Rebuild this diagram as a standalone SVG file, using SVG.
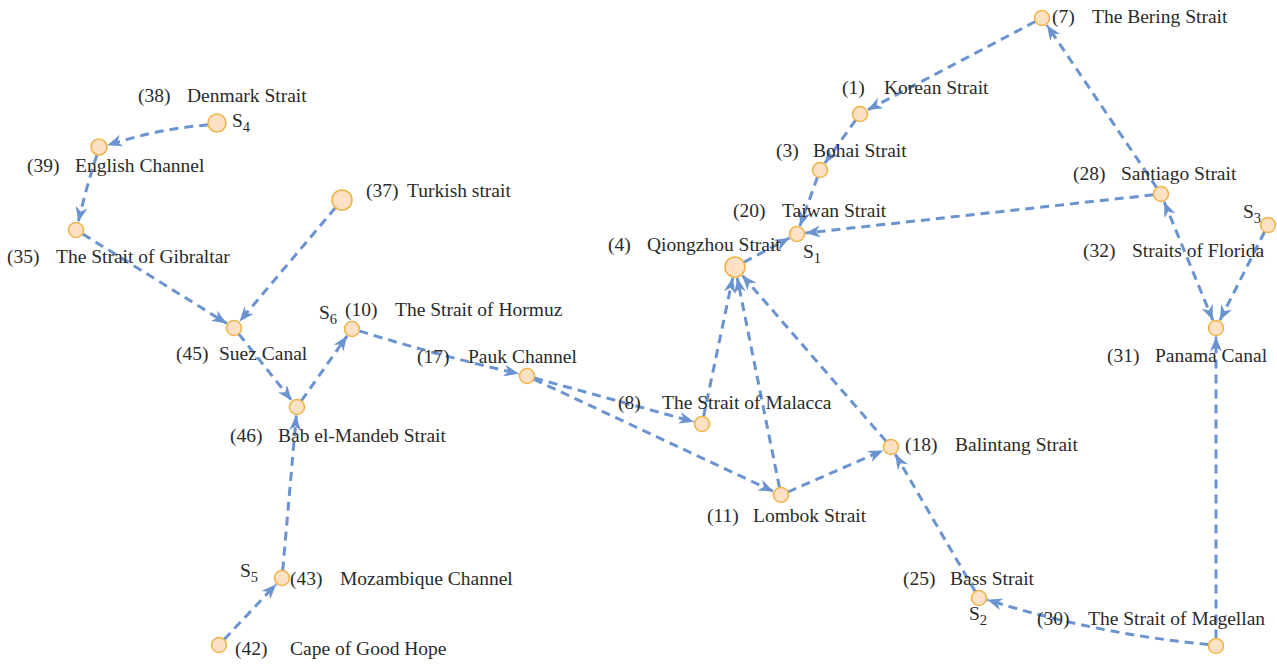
<svg xmlns="http://www.w3.org/2000/svg" width="1277" height="666" viewBox="0 0 1277 666">
<style>
.e{fill:none;stroke:#6a93cf;stroke-width:3;stroke-dasharray:9 6;marker-end:url(#ah)}
.n{fill:#fde1c5;stroke:#f0b54a;stroke-width:1.6}
text{font-family:"Liberation Serif","Times New Roman",serif;font-size:19.5px;fill:#2a2a2a}
.sub{font-size:14.5px}
</style>
<defs>
<marker id="ah" markerUnits="userSpaceOnUse" markerWidth="16" markerHeight="12" viewBox="0 0 16 12" refX="15" refY="6" orient="auto-start-reverse">
<path d="M0,0 L15,6 L0,12 L4.5,6 Z" fill="#6a93cf"/>
</marker>
</defs>
<rect width="1277" height="666" fill="#ffffff"/>
<g id="connectors">
<path class="e" d="M1035.4,21.5 L867.5,110"/>
<path class="e" d="M855.6,120.1 L824.9,163.1"/>
<path class="e" d="M817.5,177.1 L799.9,226"/>
<path class="e" d="M1153.5,194.8 L805.4,233.1"/>
<path class="e" d="M743.8,262.3 L789.5,238"/>
<path class="e" d="M1156.8,187.8 L1046.8,25"/>
<path class="e" d="M1164.2,201.9 L1212.8,320.1" style="marker-start:url(#ah)"/>
<path class="e" d="M1264.6,231.7 L1219.8,320.4"/>
<path class="e" d="M1216,638.5 L1216,336.5"/>
<path class="e" d="M1208.6,644.5 Q1094.6,633.8 987.3,599.7"/>
<path class="e" d="M975.2,591.5 L895.3,454.3"/>
<path class="e" d="M787.9,492 L883.2,450.4"/>
<path class="e" d="M886.1,441.3 L742.2,275.3"/>
<path class="e" d="M779.5,487.6 L737.2,277.8"/>
<path class="e" d="M703.5,416.7 L732.7,277.8"/>
<path class="e" d="M534.2,378 L693.8,421.8"/>
<path class="e" d="M533.8,379.2 L773.3,491.4"/>
<path class="e" d="M359.2,330.9 Q440,356 518.8,373.8"/>
<path class="e" d="M301.3,400.9 L347.1,335.9"/>
<path class="e" d="M238.7,333.9 L291.7,400.4"/>
<path class="e" d="M282.7,570.5 L296.3,415.5"/>
<path class="e" d="M224.1,639.5 L276.2,584.2"/>
<path class="e" d="M335.5,207.6 L239.5,321.5"/>
<path class="e" d="M82.8,234 L226.8,323.5"/>
<path class="e" d="M97,154.7 Q86,188 78.3,221.8"/>
<path class="e" d="M208.2,124.8 Q156.6,129.1 107.3,145.3"/>
</g>
<g id="n7"><circle class="n" cx="1042" cy="18" r="7.5"/><text x="1052" y="23">(7)<tspan x="1092">The Bering Strait</tspan></text></g>
<g id="n1"><circle class="n" cx="860" cy="114" r="7.5"/><text x="842" y="94">(1)<tspan x="884">Korean Strait</tspan></text></g>
<g id="n3"><circle class="n" cx="820" cy="170" r="7.5"/><text x="776" y="157">(3)<tspan x="813">Bohai Strait</tspan></text></g>
<g id="n20"><circle class="n" cx="797" cy="234" r="7.5"/><text x="733" y="217">(20)<tspan x="782">Taiwan Strait</tspan></text><text x="803" y="258">S<tspan class="sub" dy="5">1</tspan></text></g>
<g id="n4"><circle class="n" cx="735" cy="267" r="10"/><text x="608" y="251">(4)<tspan x="647">Qiongzhou Strait</tspan></text></g>
<g id="n28"><circle class="n" cx="1161" cy="194" r="7.5"/><text x="1073" y="180">(28)<tspan x="1121">Santiago Strait</tspan></text></g>
<g id="n32"><circle class="n" cx="1268" cy="225" r="7.5"/><text x="1243" y="218">S<tspan class="sub" dy="5">3</tspan></text><text x="1083" y="257">(32)<tspan x="1132">Straits of Florida</tspan></text></g>
<g id="n31"><circle class="n" cx="1216" cy="328" r="7.5"/><text x="1107" y="362">(31)<tspan x="1155">Panama Canal</tspan></text></g>
<g id="n30"><circle class="n" cx="1216" cy="646" r="7.5"/><text x="1037" y="625">(30)<tspan x="1088">The Strait of Magellan</tspan></text></g>
<g id="n25"><circle class="n" cx="979" cy="598" r="7.5"/><text x="903" y="585">(25)<tspan x="950">Bass Strait</tspan></text><text x="969" y="620">S<tspan class="sub" dy="5">2</tspan></text></g>
<g id="n18"><circle class="n" cx="891" cy="447" r="7.5"/><text x="905" y="451">(18)<tspan x="955">Balintang Strait</tspan></text></g>
<g id="n11"><circle class="n" cx="781" cy="495" r="7.5"/><text x="707" y="522">(11)<tspan x="753">Lombok Strait</tspan></text></g>
<g id="n8"><circle class="n" cx="702" cy="424" r="7.5"/><text x="618" y="409">(8)<tspan x="662">The Strait of Malacca</tspan></text></g>
<g id="n17"><circle class="n" cx="527" cy="376" r="7.5"/><text x="417" y="363">(17)<tspan x="468">Pauk Channel</tspan></text></g>
<g id="n10"><circle class="n" cx="352" cy="329" r="7.5"/><text x="345" y="316">(10)<tspan x="395">The Strait of Hormuz</tspan></text><text x="319" y="319">S<tspan class="sub" dy="5">6</tspan></text></g>
<g id="n45"><circle class="n" cx="234" cy="328" r="7.5"/><text x="176" y="360">(45)<tspan x="219">Suez Canal</tspan></text></g>
<g id="n46"><circle class="n" cx="297" cy="407" r="7.5"/><text x="230" y="442">(46)<tspan x="278">Bab el-Mandeb Strait</tspan></text></g>
<g id="n43"><circle class="n" cx="282" cy="578" r="7.5"/><text x="290" y="585">(43)<tspan x="340">Mozambique Channel</tspan></text><text x="240" y="577">S<tspan class="sub" dy="5">5</tspan></text></g>
<g id="n42"><circle class="n" cx="219" cy="645" r="7.5"/><text x="235" y="655">(42)<tspan x="290">Cape of Good Hope</tspan></text></g>
<g id="n37"><circle class="n" cx="342" cy="200" r="10"/><text x="366" y="197">(37)<tspan x="407">Turkish strait</tspan></text></g>
<g id="n35"><circle class="n" cx="76" cy="230" r="7.5"/><text x="7" y="263">(35)<tspan x="56">The Strait of Gibraltar</tspan></text></g>
<g id="n39"><circle class="n" cx="99" cy="147" r="8"/><text x="27" y="172">(39)<tspan x="75">English Channel</tspan></text></g>
<g id="n38"><circle class="n" cx="217" cy="123" r="9"/><text x="138" y="102">(38)<tspan x="187">Denmark Strait</tspan></text><text x="232" y="127">S<tspan class="sub" dy="5">4</tspan></text></g>
</svg>
